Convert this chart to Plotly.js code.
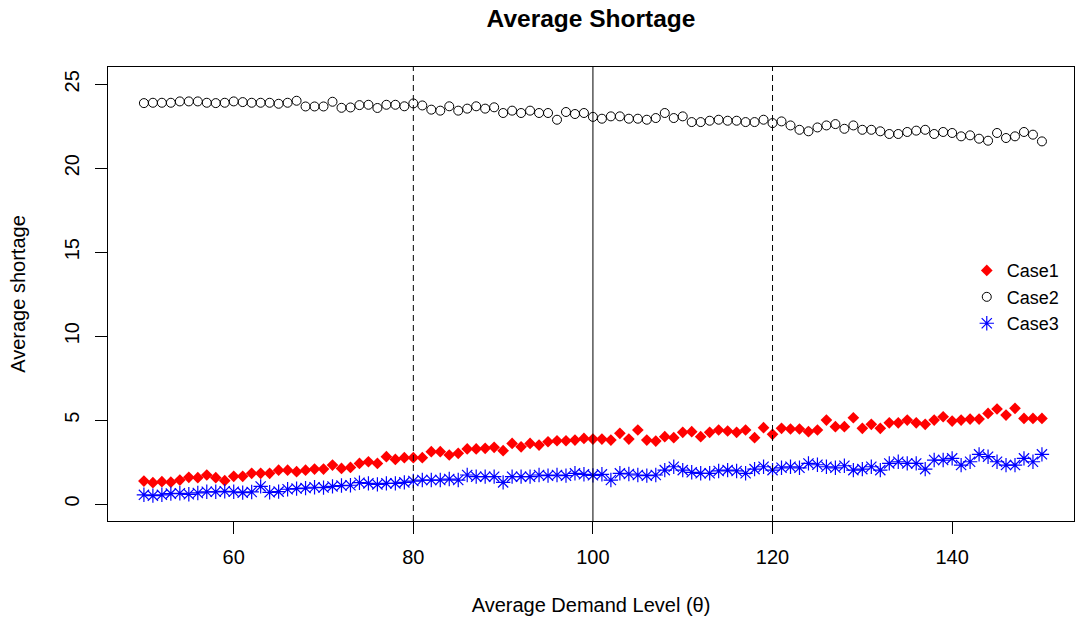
<!DOCTYPE html>
<html>
<head>
<meta charset="utf-8">
<script src="https://cdn.plot.ly/plotly-3.0.1.min.js"></script>
<style>html,body{margin:0;padding:0;background:#fff}#chart{width:1075px;height:622px}</style>
</head>
<body>
<div id="chart"></div>
<script>
// Average demand level theta = 50..150
const demandLevels = [];
for (let v = 50; v <= 150; v++) demandLevels.push(v);

const case1 = [
  1.37,1.27,1.33,1.30,1.43,1.59,1.57,1.73,1.57,1.39,
  1.65,1.65,1.83,1.83,1.83,2.02,2.02,1.93,2.02,2.08,
  2.08,2.32,2.12,2.18,2.42,2.52,2.42,2.82,2.66,2.76,
  2.76,2.76,3.12,3.12,2.92,3.02,3.28,3.28,3.32,3.38,
  3.18,3.61,3.41,3.61,3.51,3.71,3.77,3.77,3.81,3.91,
  3.87,3.87,3.81,4.21,3.87,4.41,3.81,3.75,4.01,3.95,
  4.27,4.31,4.01,4.27,4.41,4.35,4.27,4.41,3.95,4.55,
  4.15,4.51,4.47,4.47,4.31,4.41,5.00,4.61,4.61,5.14,
  4.51,4.75,4.51,4.84,4.84,5.00,4.84,4.75,5.00,5.20,
  4.94,5.00,5.06,5.06,5.40,5.66,5.30,5.70,5.10,5.10,
  5.10
];

const case2 = [
  23.88,23.90,23.90,23.90,23.98,23.98,23.98,23.90,23.88,23.90,
  23.98,23.94,23.90,23.90,23.90,23.84,23.90,24.02,23.68,23.68,
  23.68,23.96,23.60,23.62,23.76,23.78,23.59,23.78,23.78,23.69,
  23.86,23.74,23.49,23.43,23.69,23.43,23.55,23.69,23.55,23.63,
  23.29,23.43,23.29,23.43,23.29,23.29,22.89,23.35,23.23,23.29,
  23.06,22.95,23.09,23.09,22.95,22.95,22.89,22.99,23.29,22.99,
  23.09,22.75,22.75,22.83,22.89,22.83,22.83,22.75,22.75,22.89,
  22.69,22.79,22.55,22.29,22.20,22.43,22.55,22.63,22.35,22.55,
  22.29,22.29,22.20,22.04,22.04,22.16,22.24,22.29,22.04,22.16,
  22.10,21.90,21.96,21.76,21.64,22.10,21.80,21.90,22.16,22.00,
  21.60
];

const case3 = [
  0.55,0.50,0.55,0.62,0.64,0.58,0.66,0.73,0.73,0.76,
  0.73,0.68,0.72,1.05,0.70,0.74,0.88,0.92,0.95,1.00,
  0.98,1.05,1.10,1.12,1.27,1.23,1.17,1.23,1.23,1.29,
  1.37,1.43,1.43,1.43,1.49,1.43,1.73,1.63,1.63,1.63,
  1.29,1.63,1.63,1.63,1.73,1.69,1.73,1.69,1.83,1.77,
  1.71,1.77,1.43,1.83,1.79,1.73,1.69,1.73,2.02,2.22,
  2.02,1.89,1.83,1.83,1.97,2.02,1.97,1.83,2.08,2.22,
  2.02,2.16,2.22,2.16,2.42,2.34,2.22,2.16,2.28,2.02,
  2.08,2.22,2.02,2.42,2.52,2.42,2.42,2.08,2.62,2.62,
  2.72,2.32,2.52,2.96,2.82,2.52,2.32,2.32,2.72,2.52,
  2.96
];

const seriesNames = ["Case1", "Case2", "Case3"];
const xTicks = [60, 80, 100, 120, 140];
const yTicks = [0, 5, 10, 15, 20, 25];
const refLinesDashed = [80, 120];
const refLinesSolid = [100];

const FONT = "Liberation Sans, Arial, sans-serif";

const traces = [
  {x: demandLevels, y: case1, name: seriesNames[0], type: "scatter", mode: "markers",
   marker: {symbol: "diamond", size: 9, color: "#ff0000", line: {width: 0}}},
  {x: demandLevels, y: case2, name: seriesNames[1], type: "scatter", mode: "markers",
   marker: {symbol: "circle-open", size: 9, color: "#000000", line: {width: 1, color: "#000000"}}},
  {x: demandLevels, y: case3, name: seriesNames[2], type: "scatter", mode: "markers",
   marker: {symbol: "asterisk-open", size: 12, color: "#0000ff", line: {width: 1.2, color: "#0000ff"}}}
];

const shapes = [];
refLinesDashed.forEach(v => shapes.push({type: "line", xref: "x", yref: "paper", x0: v, x1: v, y0: 0, y1: 1,
  line: {color: "#000", width: 1, dash: "6px,4px"}}));
refLinesSolid.forEach(v => shapes.push({type: "line", xref: "x", yref: "paper", x0: v, x1: v, y0: 0, y1: 1,
  line: {color: "#000", width: 1}}));

const layout = {
  width: 1075, height: 622,
  margin: {l: 108, r: 1, t: 67, b: 101, pad: 0},
  paper_bgcolor: "#fff", plot_bgcolor: "#fff",
  font: {family: FONT, size: 20, color: "#000"},
  title: {text: "<b>Average Shortage</b>", font: {family: FONT, size: 24.5, color: "#000"},
          x: 0.5, xref: "paper", xanchor: "center", y: 0.97, yref: "container", yanchor: "middle"},
  showlegend: true,
  legend: {x: 0.889, xanchor: "left", y: 0.592, yanchor: "top", bgcolor: "rgba(0,0,0,0)",
           font: {family: FONT, size: 18, color: "#000"}, tracegroupgap: 0, itemsizing: "trace"},
  xaxis: {range: [46, 153.57], autorange: false, tickmode: "array", tickvals: xTicks,
          ticks: "outside", ticklen: 12, tickwidth: 1, tickcolor: "#000", ticklabelstandoff: 6,
          showgrid: false, zeroline: false, showline: true, mirror: true, linecolor: "#000", linewidth: 1,
          tickfont: {family: FONT, size: 20, color: "#000"},
          title: {text: "Average Demand Level (θ)", font: {family: FONT, size: 20, color: "#000"}, standoff: 30}},
  yaxis: {range: [-1.01, 26.03], autorange: false, tickmode: "array", tickvals: yTicks,
          ticks: "outside", ticklen: 12, tickwidth: 1, tickcolor: "#000", tickangle: -90, ticklabelstandoff: 8,
          showgrid: false, zeroline: false, showline: true, mirror: true, linecolor: "#000", linewidth: 1,
          tickfont: {family: FONT, size: 20, color: "#000"},
          title: {text: "Average shortage", font: {family: FONT, size: 20, color: "#000"}, standoff: 30}},
  shapes: shapes
};

Plotly.newPlot("chart", traces, layout, {displayModeBar: false, responsive: false});
</script>
</body>
</html>
